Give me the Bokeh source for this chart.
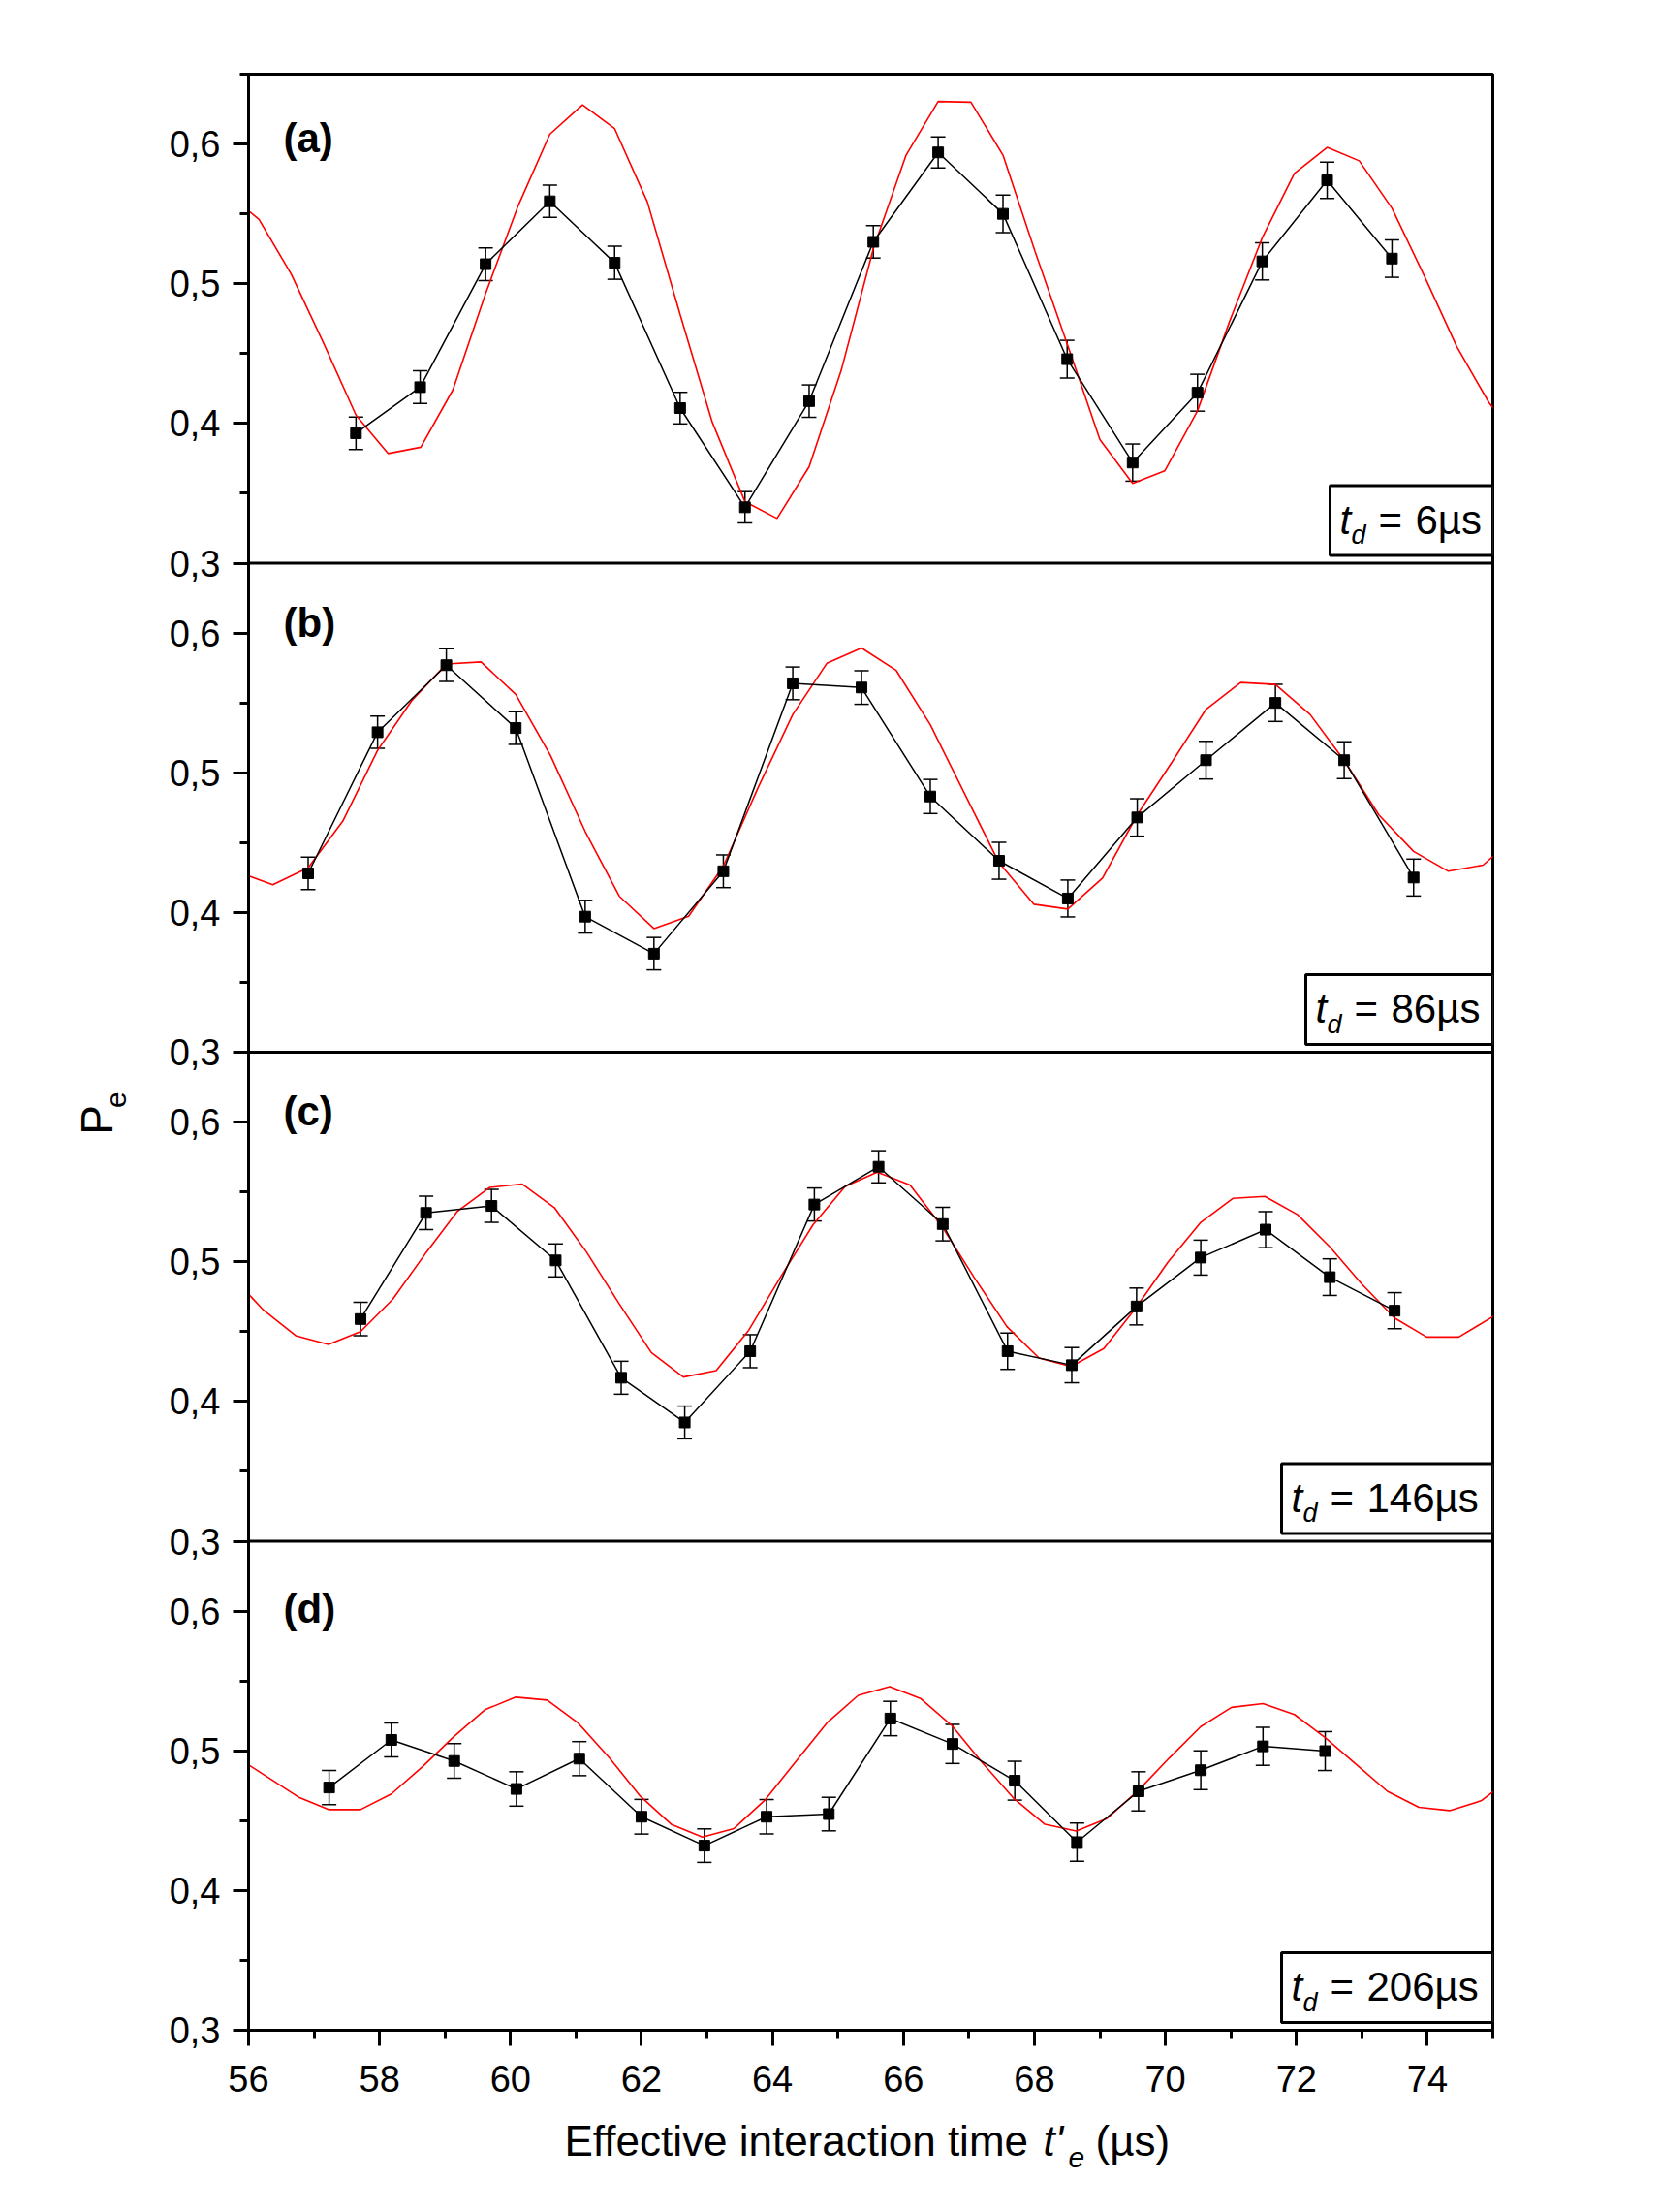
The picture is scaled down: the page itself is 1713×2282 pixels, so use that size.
import math

from bokeh.plotting import figure
from bokeh.layouts import row, column
from bokeh.models import (Range1d, FixedTicker, CustomJSTickFormatter, ColumnDataSource,
                          Whisker, TeeHead, Span, BoxAnnotation, Label)
from bokeh.embed import file_html
from bokeh.resources import INLINE

# ---------------------------------------------------------------------------
# Measured excited-state probability P_e versus effective interaction time,
# for four delay times t_d, with the fitted model curve (red).
# ---------------------------------------------------------------------------

# (a) t_d = 6 us
t_a = [57.64, 58.62, 59.62, 60.60, 61.59, 62.59, 63.58, 64.56, 65.54,
       66.53, 67.52, 68.50, 69.50, 70.49, 71.48, 72.47, 73.46]
pe_a = [0.393, 0.426, 0.514, 0.559, 0.515, 0.411, 0.340, 0.416, 0.530,
        0.594, 0.550, 0.446, 0.372, 0.422, 0.516, 0.574, 0.518]
err_a = [0.0116, 0.0117, 0.0117, 0.0115, 0.0118, 0.0113, 0.0112, 0.0116, 0.0116,
         0.0111, 0.0134, 0.0135, 0.0133, 0.0132, 0.0133, 0.0130, 0.0134]
fit_t_a = [55.67, 56.16, 56.65, 57.15, 57.64, 58.13, 58.63, 59.12, 59.62, 60.11,
           60.60, 61.10, 61.59, 62.09, 62.59, 63.08, 63.58, 64.07, 64.56, 65.05,
           65.54, 66.04, 66.53, 67.03, 67.52, 68.01, 68.50, 69.00, 69.50, 69.99,
           70.49, 70.98, 71.48, 71.97, 72.47, 72.96, 73.46, 73.95, 74.45, 74.94,
           75.43]
fit_a = [0.565, 0.546, 0.507, 0.457, 0.406, 0.3785, 0.383, 0.424, 0.493, 0.555,
         0.607, 0.628, 0.611, 0.5585, 0.478, 0.401, 0.344, 0.332, 0.369, 0.438,
         0.525, 0.592, 0.6305, 0.630, 0.592, 0.523, 0.457, 0.3885, 0.357, 0.366,
         0.409, 0.473, 0.533, 0.579, 0.5976, 0.588, 0.554, 0.506, 0.455, 0.415,
         0.385]

# (b) t_d = 86 us
t_b = [56.91, 57.97, 59.02, 60.08, 61.14, 62.19, 63.25, 64.31, 65.36,
       66.41, 67.46, 68.51, 69.57, 70.62, 71.68, 72.73, 73.79]
pe_b = [0.428, 0.529, 0.577, 0.532, 0.397, 0.3705, 0.4295, 0.564, 0.561,
        0.483, 0.437, 0.410, 0.468, 0.509, 0.550, 0.509, 0.425]
err_b = [0.0117, 0.0115, 0.0117, 0.0117, 0.0117, 0.0116, 0.0117, 0.0117, 0.0120,
         0.0122, 0.0132, 0.0132, 0.0134, 0.0135, 0.0133, 0.0132, 0.0132]
fit_t_b = [55.84, 56.37, 56.91, 57.44, 57.97, 58.49, 59.02, 59.55, 60.08, 60.61,
           61.14, 61.66, 62.19, 62.72, 63.25, 63.78, 64.31, 64.83, 65.36, 65.89,
           66.41, 66.94, 67.46, 67.99, 68.51, 69.04, 69.57, 70.10, 70.62, 71.15,
           71.68, 72.21, 72.73, 73.26, 73.79, 74.32, 74.85, 75.37]
fit_b = [0.429, 0.4198, 0.432, 0.4654, 0.516, 0.5515, 0.5778, 0.5793, 0.5561, 0.5124,
         0.458, 0.4117, 0.3885, 0.3973, 0.4332, 0.4893, 0.5417, 0.5783, 0.5893, 0.5732,
         0.5344, 0.4844, 0.4356, 0.4059, 0.4024, 0.4246, 0.4698, 0.5076, 0.5454, 0.5646,
         0.5632, 0.5417, 0.5088, 0.4698, 0.4437, 0.4295, 0.4339, 0.455]

# (c) t_d = 146 us
t_c = [57.71, 58.71, 59.71, 60.69, 61.69, 62.66, 63.66, 64.64, 65.62,
       66.60, 67.59, 68.57, 69.56, 70.54, 71.53, 72.51, 73.50]
pe_c = [0.459, 0.535, 0.540, 0.501, 0.417, 0.385, 0.436, 0.541, 0.568,
        0.527, 0.436, 0.426, 0.468, 0.503, 0.523, 0.489, 0.465]
err_c = [0.0120, 0.0119, 0.0118, 0.0118, 0.0118, 0.0117, 0.0118, 0.0118, 0.0115,
         0.0120, 0.0130, 0.0126, 0.0132, 0.0125, 0.0129, 0.0131, 0.0129]
fit_t_c = [55.74, 56.23, 56.72, 57.22, 57.71, 58.20, 58.70, 59.19, 59.68, 60.18,
           60.67, 61.16, 61.66, 62.15, 62.64, 63.14, 63.63, 64.12, 64.62, 65.11,
           65.60, 66.10, 66.59, 67.08, 67.58, 68.07, 68.56, 69.06, 69.55, 70.04,
           70.54, 71.03, 71.52, 72.02, 72.51, 73.00, 73.50, 73.99, 74.48, 74.98,
           75.47]
fit_c = [0.490, 0.4653, 0.4471, 0.4408, 0.450, 0.4731, 0.5058, 0.5362, 0.5532, 0.5556,
         0.5388, 0.507, 0.4699, 0.435, 0.4175, 0.4221, 0.4505, 0.4888, 0.5265, 0.5539,
         0.5641, 0.5549, 0.5252, 0.4888, 0.4536, 0.4311, 0.425, 0.4379, 0.467, 0.4998,
         0.5282, 0.5454, 0.5468, 0.5337, 0.5107, 0.484, 0.4597, 0.4461, 0.4461, 0.4602,
         0.476]

# (d) t_d = 206 us
t_d = [57.23, 58.18, 59.14, 60.09, 61.05, 62.00, 62.96, 63.91, 64.86,
       65.80, 66.75, 67.70, 68.65, 69.59, 70.54, 71.49, 72.44]
pe_d = [0.4737, 0.5078, 0.4927, 0.4727, 0.4944, 0.4528, 0.4321, 0.4528, 0.4547,
        0.5231, 0.5049, 0.4786, 0.4346, 0.4710, 0.4861, 0.5032, 0.4998]
err_d = [0.0122, 0.0122, 0.0124, 0.0123, 0.0122, 0.0124, 0.0120, 0.0123, 0.0120,
         0.0123, 0.0140, 0.0139, 0.0137, 0.0140, 0.0139, 0.0136, 0.0139]
fit_t_d = [55.80, 56.28, 56.76, 57.23, 57.71, 58.18, 58.66, 59.13, 59.61, 60.08,
           60.56, 61.03, 61.51, 61.98, 62.46, 62.93, 63.41, 63.88, 64.36, 64.84,
           65.31, 65.79, 66.26, 66.74, 67.21, 67.69, 68.16, 68.64, 69.11, 69.59,
           70.06, 70.54, 71.01, 71.49, 71.97, 72.44, 72.92, 73.39, 73.87, 74.34,
           74.82, 75.29]
fit_d = [0.496, 0.4815, 0.4669, 0.4579, 0.4579, 0.4691, 0.4888, 0.510, 0.5294, 0.5384,
         0.5363, 0.520, 0.4949, 0.4676, 0.4472, 0.4382, 0.4443, 0.4645, 0.4925, 0.5204,
         0.5397, 0.546, 0.5375, 0.518, 0.4912, 0.4657, 0.4474, 0.4426, 0.4516, 0.4718,
         0.4949, 0.5173, 0.5311, 0.5338, 0.526, 0.5095, 0.490, 0.471, 0.4596, 0.4572,
         0.4642, 0.481]

panel_tags = ["(a)", "(b)", "(c)", "(d)"]
delay_values = ["6µs", "86µs", "146µs", "206µs"]

x_major_ticks = [56, 58, 60, 62, 64, 66, 68, 70, 72, 74]
x_minor_ticks = [56, 57, 58, 59, 60, 61, 62, 63, 64, 65, 66, 67, 68, 69, 70,
                 71, 72, 73, 74, 75]
y_major_values = [0.3, 0.4, 0.5, 0.6]
y_minor_values = [0.35, 0.45, 0.55, 0.65]

# ---------------------------------------------------------------------------
# Layout: a left strip (y title), the main frame with four stacked panels
# sharing one x axis, and a bottom strip (x title).
# ---------------------------------------------------------------------------
FONT = "Liberation Sans"
W, H = 1713, 2282
LEFT_W = 150                 # width of the y-title strip
MAIN_H = 2180                # height of the main figure
FL, FR, FT, FB = 256, 1540, 76, 2094          # frame edges in page px
X_START, X_END = 56, 75
LO, HI = 0.3, 0.65
SPAN = HI - LO
N = 4

PX_X = (FR - FL) / (X_END - X_START)
PX_Y = (FB - FT) / (N * SPAN)


def dx(px):
    """page column -> x data"""
    return X_START + (px - FL) / PX_X


p = figure(width=W - LEFT_W, height=MAIN_H, output_backend="svg", toolbar_location=None,
           x_range=Range1d(X_START, X_END), y_range=Range1d(LO, LO + N * SPAN),
           min_border_left=FL - LEFT_W, min_border_right=W - FR,
           min_border_top=FT, min_border_bottom=MAIN_H - FB)
p.xgrid.visible = False
p.ygrid.visible = False
p.background_fill_color = "white"
p.border_fill_color = "white"
p.outline_line_color = "black"
p.outline_line_width = 3

# axes
xa = p.xaxis[0]
xa.ticker = FixedTicker(ticks=x_major_ticks, minor_ticks=x_minor_ticks)
ya = p.yaxis[0]
y_major, y_minor = [], []
for j in range(N):
    off = j * SPAN
    y_major += [round(v + off, 4) for v in y_major_values]
    y_minor += [round(v + off, 4) for v in y_minor_values]
ya.ticker = FixedTicker(ticks=y_major, minor_ticks=y_minor)
ya.formatter = CustomJSTickFormatter(code="""
    const j = Math.floor((tick - 0.3 + 1e-6) / 0.35);
    const v = tick - j * 0.35;
    return v.toFixed(1).replace('.', ',');
""")
for ax, fs, so in ((xa, "38px", 20), (ya, "38px", 13)):
    ax.axis_line_width = 3
    ax.axis_line_color = "black"
    ax.major_tick_out = 16
    ax.major_tick_in = 0
    ax.minor_tick_out = 9
    ax.minor_tick_in = 0
    ax.major_tick_line_width = 3
    ax.minor_tick_line_width = 3
    ax.major_tick_line_color = "black"
    ax.minor_tick_line_color = "black"
    ax.major_label_text_font = FONT
    ax.major_label_text_font_size = fs
    ax.major_label_text_color = "black"
    ax.major_label_standoff = so

# panel separators
for j in range(1, N):
    p.add_layout(Span(location=LO + j * SPAN, dimension="width",
                      line_color="black", line_width=3))

panels = [
    (t_a, pe_a, err_a, fit_t_a, fit_a),
    (t_b, pe_b, err_b, fit_t_b, fit_b),
    (t_c, pe_c, err_c, fit_t_c, fit_c),
    (t_d, pe_d, err_d, fit_t_d, fit_d),
]
tag_heights = [0.604, 0.607, 0.608, 0.602]
box_left_px = [1372, 1347, 1322, 1322]

ranges = {}
for k in range(N):
    off = (N - 1 - k) * SPAN
    ranges["panel%d" % k] = Range1d(LO - off, LO - off + N * SPAN)
p.extra_y_ranges = ranges

for k, (t, pe, err, ft, fv) in enumerate(panels):
    name = "panel%d" % k

    # model curve
    p.line(ft, fv, y_range_name=name, line_color="red", line_width=1.6)

    # measurements with error bars
    src = ColumnDataSource(dict(
        t=t, pe=pe,
        lo=[v - e for v, e in zip(pe, err)],
        hi=[v + e for v, e in zip(pe, err)],
    ))
    p.add_layout(Whisker(source=src, base="t", lower="lo", upper="hi",
                         y_range_name=name, line_color="black", line_width=1.5,
                         upper_head=TeeHead(size=15, line_width=1.5, line_color="black"),
                         lower_head=TeeHead(size=15, line_width=1.5, line_color="black")))
    p.line("t", "pe", source=src, y_range_name=name, line_color="black", line_width=1.5)
    p.scatter("t", "pe", source=src, y_range_name=name, marker="square", size=11,
              fill_color="black", line_color="black")

    # panel tag
    p.add_layout(Label(x=dx(292), y=tag_heights[k], y_range_name=name,
                       text=panel_tags[k], text_font=FONT, text_font_style="bold",
                       text_font_size="42px", text_color="black",
                       text_align="left", text_baseline="middle"))

    # delay-time box
    bl = box_left_px[k]
    p.add_layout(BoxAnnotation(left=dx(bl), right=X_END,
                               bottom=LO + 8 / PX_Y, top=LO + 80 / PX_Y,
                               y_range_name=name, fill_color="white", fill_alpha=1.0,
                               line_color="black", line_alpha=1.0, line_width=3))
    mid_y = LO + 45 / PX_Y
    sub_y = LO + 29 / PX_Y
    p.add_layout(Label(x=dx(bl + 10), y=mid_y, y_range_name=name, text="t",
                       text_font=FONT, text_font_style="italic", text_font_size="42px",
                       text_color="black", text_align="left", text_baseline="middle"))
    p.add_layout(Label(x=dx(bl + 22), y=sub_y, y_range_name=name, text="d",
                       text_font=FONT, text_font_style="italic", text_font_size="27px",
                       text_color="black", text_align="left", text_baseline="middle"))
    p.add_layout(Label(x=dx(bl + 50), y=mid_y, y_range_name=name, text="=",
                       text_font=FONT, text_font_size="42px",
                       text_color="black", text_align="left", text_baseline="middle"))
    p.add_layout(Label(x=dx(bl + 88), y=mid_y, y_range_name=name, text=delay_values[k],
                       text_font=FONT, text_font_size="42px",
                       text_color="black", text_align="left", text_baseline="middle"))


def strip(width, height):
    f = figure(width=width, height=height, output_backend="svg", toolbar_location=None,
               x_range=Range1d(0, width), y_range=Range1d(0, height),
               x_axis_location=None, y_axis_location=None,
               min_border=0, min_border_left=0, min_border_right=0,
               min_border_top=0, min_border_bottom=0)
    f.outline_line_color = None
    f.background_fill_color = "white"
    f.border_fill_color = "white"
    for g in f.grid:
        g.visible = False
    return f


# y-axis title: P_e, rotated (strip coordinates are page px, y from the bottom)
left = strip(LEFT_W, MAIN_H)
left.add_layout(Label(x=99, y=MAIN_H - 1182, text="P", angle=math.pi / 2,
                      text_font=FONT, text_font_size="46px", text_color="black",
                      text_align="left", text_baseline="middle"))
left.add_layout(Label(x=119, y=MAIN_H - 1152, text="e", angle=math.pi / 2,
                      text_font=FONT, text_font_size="30px", text_color="black",
                      text_align="left", text_baseline="middle"))

# x-axis title: Effective interaction time t'_e (µs)
BOT_H = H - MAIN_H
bottom = strip(W, BOT_H)
title_y = H - 2208
bottom.add_layout(Label(x=582, y=title_y, text="Effective interaction time",
                        text_font=FONT, text_font_size="44px", text_color="black",
                        text_align="left", text_baseline="middle"))
bottom.add_layout(Label(x=1076, y=title_y, text="t'",
                        text_font=FONT, text_font_style="italic", text_font_size="44px",
                        text_color="black", text_align="left", text_baseline="middle"))
bottom.add_layout(Label(x=1102, y=H - 2225, text="e",
                        text_font=FONT, text_font_style="italic", text_font_size="30px",
                        text_color="black", text_align="left", text_baseline="middle"))
bottom.add_layout(Label(x=1130, y=title_y, text="(µs)",
                        text_font=FONT, text_font_size="44px", text_color="black",
                        text_align="left", text_baseline="middle"))

page = column(row(left, p, spacing=0), bottom, spacing=0)

open("out.html", "w").write(file_html(page, INLINE))
